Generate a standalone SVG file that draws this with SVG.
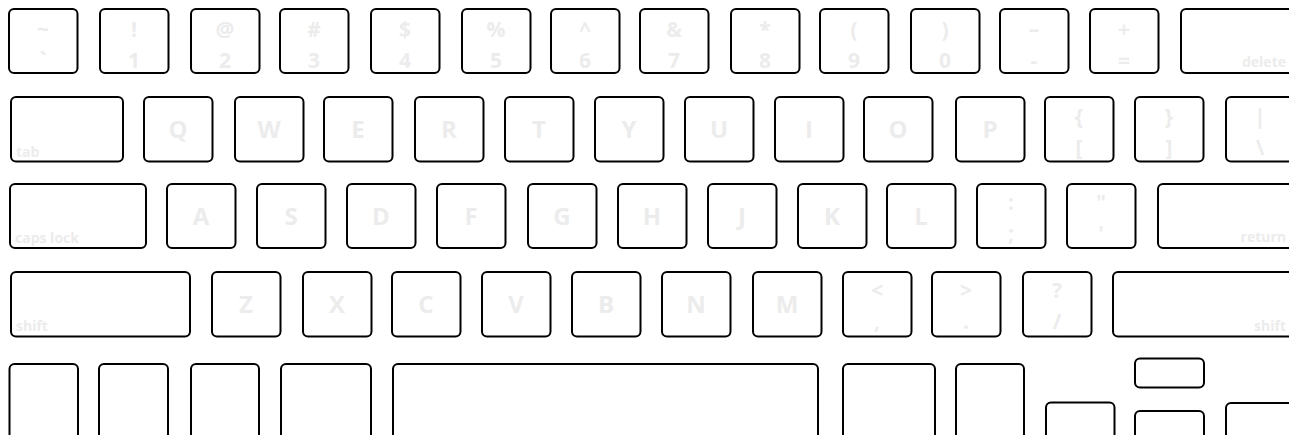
<svg xmlns="http://www.w3.org/2000/svg" width="1289" height="435" viewBox="0 0 1289 435">
<style>
.k{fill:#fff;stroke:#000;stroke-width:2}
.t{font-family:"Open Sans","Liberation Sans",sans-serif;font-weight:bold;fill:#ececec;text-anchor:middle}
.l{font-size:24px}
.n{font-size:21px}
.s{font-size:14px;font-family:"Open Sans","Liberation Sans",sans-serif;font-weight:bold;fill:#ececec}
</style>
<rect width="1289" height="435" fill="#fff"/>
<g id="row1">
<g id="key-grave"><rect class="k" x="9" y="9" width="68.5" height="64" rx="5"/><text class="t n" x="43" y="37">~</text><text class="t n" x="43" y="68">`</text></g>
<g id="key-1"><rect class="k" x="100" y="9" width="68.5" height="64" rx="5"/><text class="t n" x="134" y="37">!</text><text class="t n" x="134" y="68">1</text></g>
<g id="key-2"><rect class="k" x="191" y="9" width="68.5" height="64" rx="5"/><text class="t n" x="225" y="37">@</text><text class="t n" x="225" y="68">2</text></g>
<g id="key-3"><rect class="k" x="280" y="9" width="68.5" height="64" rx="5"/><text class="t n" x="314" y="37">#</text><text class="t n" x="314" y="68">3</text></g>
<g id="key-4"><rect class="k" x="371" y="9" width="68.5" height="64" rx="5"/><text class="t n" x="405" y="37">$</text><text class="t n" x="405" y="68">4</text></g>
<g id="key-5"><rect class="k" x="462" y="9" width="68.5" height="64" rx="5"/><text class="t n" x="496" y="37">%</text><text class="t n" x="496" y="68">5</text></g>
<g id="key-6"><rect class="k" x="551" y="9" width="68.5" height="64" rx="5"/><text class="t n" x="585" y="37">^</text><text class="t n" x="585" y="68">6</text></g>
<g id="key-7"><rect class="k" x="640" y="9" width="68.5" height="64" rx="5"/><text class="t n" x="674" y="37">&amp;</text><text class="t n" x="674" y="68">7</text></g>
<g id="key-8"><rect class="k" x="731" y="9" width="68.5" height="64" rx="5"/><text class="t n" x="765" y="37">*</text><text class="t n" x="765" y="68">8</text></g>
<g id="key-9"><rect class="k" x="820" y="9" width="68.5" height="64" rx="5"/><text class="t n" x="854" y="37">(</text><text class="t n" x="854" y="68">9</text></g>
<g id="key-0"><rect class="k" x="911" y="9" width="68.5" height="64" rx="5"/><text class="t n" x="945" y="37">)</text><text class="t n" x="945" y="68">0</text></g>
<g id="key-minus"><rect class="k" x="1000" y="9" width="68.5" height="64" rx="5"/><text class="t n" x="1034" y="37">–</text><text class="t n" x="1034" y="68">-</text></g>
<g id="key-equal"><rect class="k" x="1090" y="9" width="68.5" height="64" rx="5"/><text class="t n" x="1124" y="37">+</text><text class="t n" x="1124" y="68">=</text></g>
<g id="key-delete"><rect class="k" x="1181" y="9" width="130" height="64" rx="5"/><text class="s" x="1286" y="67" text-anchor="end">delete</text></g>
</g>
<g id="row2">
<g id="key-tab"><rect class="k" x="11" y="97" width="112" height="64.5" rx="5"/><text class="s" x="16" y="157">tab</text></g>
<g id="key-q"><rect class="k" x="144" y="97" width="68.5" height="64.5" rx="5"/><text class="t l" x="178" y="138">Q</text></g>
<g id="key-w"><rect class="k" x="235" y="97" width="68.5" height="64.5" rx="5"/><text class="t l" x="269" y="138">W</text></g>
<g id="key-e"><rect class="k" x="324" y="97" width="68.5" height="64.5" rx="5"/><text class="t l" x="358" y="138">E</text></g>
<g id="key-r"><rect class="k" x="415" y="97" width="68.5" height="64.5" rx="5"/><text class="t l" x="449" y="138">R</text></g>
<g id="key-t"><rect class="k" x="505" y="97" width="68.5" height="64.5" rx="5"/><text class="t l" x="539" y="138">T</text></g>
<g id="key-y"><rect class="k" x="595" y="97" width="68.5" height="64.5" rx="5"/><text class="t l" x="629" y="138">Y</text></g>
<g id="key-u"><rect class="k" x="685" y="97" width="68.5" height="64.5" rx="5"/><text class="t l" x="719" y="138">U</text></g>
<g id="key-i"><rect class="k" x="775" y="97" width="68.5" height="64.5" rx="5"/><text class="t l" x="809" y="138">I</text></g>
<g id="key-o"><rect class="k" x="864" y="97" width="68.5" height="64.5" rx="5"/><text class="t l" x="898" y="138">O</text></g>
<g id="key-p"><rect class="k" x="956" y="97" width="68.5" height="64.5" rx="5"/><text class="t l" x="990" y="138">P</text></g>
<g id="key-lbracket"><rect class="k" x="1045" y="97" width="68.5" height="64.5" rx="5"/><text class="t n" x="1079" y="124">{</text><text class="t n" x="1079" y="155">[</text></g>
<g id="key-rbracket"><rect class="k" x="1135" y="97" width="68.5" height="64.5" rx="5"/><text class="t n" x="1169" y="124">}</text><text class="t n" x="1169" y="155">]</text></g>
<g id="key-backslash"><rect class="k" x="1226" y="97" width="90" height="64.5" rx="5"/><text class="t n" x="1260" y="124">|</text><text class="t n" x="1260" y="155">\</text></g>
</g>
<g id="row3">
<g id="key-caps"><rect class="k" x="10" y="184" width="136" height="64" rx="5"/><text class="s" x="15" y="243">caps lock</text></g>
<g id="key-a"><rect class="k" x="167" y="184" width="68.5" height="64" rx="5"/><text class="t l" x="201" y="225">A</text></g>
<g id="key-s"><rect class="k" x="257" y="184" width="68.5" height="64" rx="5"/><text class="t l" x="291" y="225">S</text></g>
<g id="key-d"><rect class="k" x="347" y="184" width="68.5" height="64" rx="5"/><text class="t l" x="381" y="225">D</text></g>
<g id="key-f"><rect class="k" x="437" y="184" width="68.5" height="64" rx="5"/><text class="t l" x="471" y="225">F</text></g>
<g id="key-g"><rect class="k" x="528" y="184" width="68.5" height="64" rx="5"/><text class="t l" x="562" y="225">G</text></g>
<g id="key-h"><rect class="k" x="618" y="184" width="68.5" height="64" rx="5"/><text class="t l" x="652" y="225">H</text></g>
<g id="key-j"><rect class="k" x="708" y="184" width="68.5" height="64" rx="5"/><text class="t l" x="742" y="225">J</text></g>
<g id="key-k"><rect class="k" x="798" y="184" width="68.5" height="64" rx="5"/><text class="t l" x="832" y="225">K</text></g>
<g id="key-l"><rect class="k" x="887" y="184" width="68.5" height="64" rx="5"/><text class="t l" x="921" y="225">L</text></g>
<g id="key-semicolon"><rect class="k" x="977" y="184" width="68.5" height="64" rx="5"/><text class="t n" x="1011" y="210">:</text><text class="t n" x="1011" y="241">;</text></g>
<g id="key-quote"><rect class="k" x="1067" y="184" width="68.5" height="64" rx="5"/><text class="t n" x="1101" y="210">"</text><text class="t n" x="1101" y="241">'</text></g>
<g id="key-return"><rect class="k" x="1158" y="184" width="150" height="64" rx="5"/><text class="s" x="1286" y="242" text-anchor="end">return</text></g>
</g>
<g id="row4">
<g id="key-lshift"><rect class="k" x="11" y="272" width="179" height="64.5" rx="5"/><text class="s" x="16" y="331">shift</text></g>
<g id="key-z"><rect class="k" x="212" y="272" width="68.5" height="64.5" rx="5"/><text class="t l" x="246" y="313">Z</text></g>
<g id="key-x"><rect class="k" x="303" y="272" width="68.5" height="64.5" rx="5"/><text class="t l" x="337" y="313">X</text></g>
<g id="key-c"><rect class="k" x="392" y="272" width="68.5" height="64.5" rx="5"/><text class="t l" x="426" y="313">C</text></g>
<g id="key-v"><rect class="k" x="482" y="272" width="68.5" height="64.5" rx="5"/><text class="t l" x="516" y="313">V</text></g>
<g id="key-b"><rect class="k" x="572" y="272" width="68.5" height="64.5" rx="5"/><text class="t l" x="606" y="313">B</text></g>
<g id="key-n"><rect class="k" x="662" y="272" width="68.5" height="64.5" rx="5"/><text class="t l" x="696" y="313">N</text></g>
<g id="key-m"><rect class="k" x="753" y="272" width="68.5" height="64.5" rx="5"/><text class="t l" x="787" y="313">M</text></g>
<g id="key-comma"><rect class="k" x="843" y="272" width="68.5" height="64.5" rx="5"/><text class="t n" x="877" y="298">&lt;</text><text class="t n" x="877" y="329">,</text></g>
<g id="key-period"><rect class="k" x="932" y="272" width="68.5" height="64.5" rx="5"/><text class="t n" x="966" y="298">&gt;</text><text class="t n" x="966" y="329">.</text></g>
<g id="key-slash"><rect class="k" x="1023" y="272" width="68.5" height="64.5" rx="5"/><text class="t n" x="1057" y="298">?</text><text class="t n" x="1057" y="329">/</text></g>
<g id="key-rshift"><rect class="k" x="1113" y="272" width="200" height="64.5" rx="5"/><text class="s" x="1286" y="331" text-anchor="end">shift</text></g>
</g>
<g id="row5">
<g id="key-fn"><rect class="k" x="9.5" y="364" width="68.5" height="90" rx="5"/></g>
<g id="key-ctrl"><rect class="k" x="99" y="364" width="69" height="90" rx="5"/></g>
<g id="key-alt"><rect class="k" x="191" y="364" width="68" height="90" rx="5"/></g>
<g id="key-cmd"><rect class="k" x="281" y="364" width="90" height="90" rx="5"/></g>
<g id="key-space"><rect class="k" x="393" y="364" width="425" height="90" rx="5"/></g>
<g id="key-rcmd"><rect class="k" x="843" y="364" width="92" height="90" rx="5"/></g>
<g id="key-ralt"><rect class="k" x="956" y="364" width="68" height="90" rx="5"/></g>
<g id="key-left"><rect class="k" x="1046" y="402.5" width="68.5" height="60" rx="5"/></g>
<g id="key-up"><rect class="k" x="1135" y="358.5" width="69" height="29" rx="5"/></g>
<g id="key-down"><rect class="k" x="1135" y="411" width="69" height="50" rx="5"/></g>
<g id="key-right"><rect class="k" x="1226" y="403" width="80" height="60" rx="5"/></g>
</g>
<g id="connectors"/>
</svg>
